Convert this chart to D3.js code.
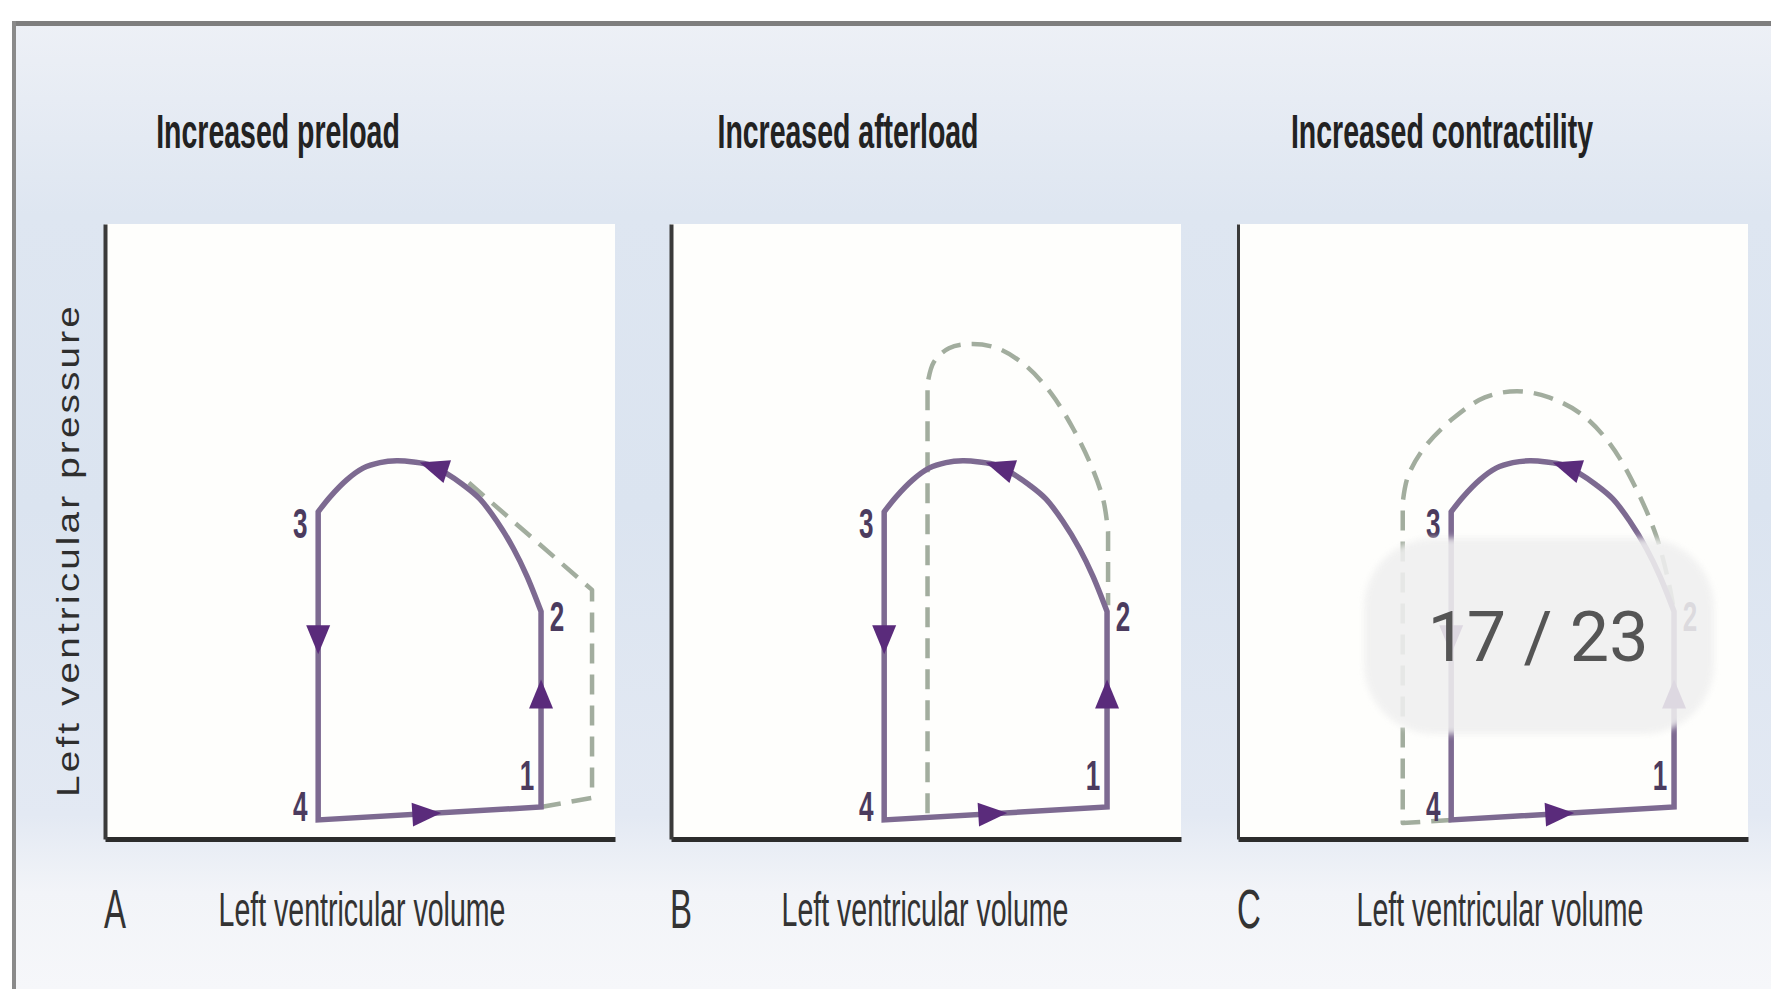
<!DOCTYPE html>
<html><head><meta charset="utf-8">
<script src="https://cdn.jsdelivr.net/npm/d3@7"></script>
<style>html,body{margin:0;padding:0;background:#fff;} svg{display:block;}</style>
</head><body><svg id="c" width="1771" height="989"></svg>
<script>
// ---------------- data ----------------
const panelLetters = ["A", "B", "C"];
const panelTitles = ["Increased preload", "Increased afterload", "Increased contractility"];
const xAxisLabel = "Left ventricular volume";
const yAxisLabel = "Left ventricular pressure";
const pointLabels = ["1", "2", "3", "4"];

// baseline pressure-volume loop, straight part 3 -> 4 -> 1 -> 2
const loopLineVolume = [41.8, 41.8, 85.5, 85.5];
const loopLinePressure = [53.2, 3.1, 5.2, 37.0];
// ejection arc 2 -> 3
const loopArcVolume = [85.5, 82.7, 80.1, 76.8, 73.5, 70.2, 67.0, 63.7, 60.5, 57.2, 53.9, 50.6, 47.4, 44.1, 41.8];
const loopArcPressure = [37.0, 42.8, 47.2, 51.7, 55.3, 57.6, 59.4, 60.8, 61.3, 61.5, 61.2, 60.3, 58.4, 55.6, 53.2];

// loop vertices 1..4
const vertexVolume = [85.5, 85.5, 41.8, 41.8];
const vertexPressure = [5.2, 37.0, 53.2, 3.1];

// direction arrows along the loop (from -> to)
const arrowFromVolume = [41.8, 61.0, 85.5, 66.5];
const arrowFromPressure = [34.5, 4.0, 21.5, 59.9];
const arrowToVolume = [41.8, 65.0, 85.5, 62.5];
const arrowToPressure = [30.5, 4.2, 25.5, 61.0];

// dashed altered loops
const preloadVolume = [85.5, 95.5, 95.5, 70.0];
const preloadPressure = [5.2, 6.7, 40.5, 58.9];

const afterloadLineVolume = [50.3, 50.3];
const afterloadLinePressure = [4.2, 74.0];
const afterloadArcVolume = [50.3, 51.5, 54.5, 59.0, 64.0, 69.5, 74.5, 79.0, 82.5, 84.8, 85.7];
const afterloadArcPressure = [74.0, 77.5, 79.8, 80.5, 79.8, 77.0, 72.5, 66.5, 60.5, 55.0, 50.0];
const afterloadTailVolume = [85.7, 85.7];
const afterloadTailPressure = [50.0, 38.0];

const contractLineVolume = [41.8, 32.3, 32.3];
const contractLinePressure = [3.1, 2.6, 54.7];
const contractArcVolume = [32.3, 33.3, 36.5, 42.2, 48.4, 54.7, 61.0, 67.3, 72.9, 77.8, 82.0, 84.5, 85.5];
const contractArcPressure = [54.7, 58.9, 63.6, 68.4, 71.8, 72.8, 71.8, 69.1, 64.3, 57.4, 49.3, 41.5, 37.0];

const pageCounter = "17 / 23";

// ---------------- layout ----------------
const W = 1771, H = 989;
const panelLeft = [105, 671, 1238];
const plotW = 510, plotTop = 224, plotBottom = 839;
const titleCenter = [173, 177, 204];
const xLabelCenter = [257, 254, 262];
const FONT = "'Liberation Sans', Arial, sans-serif";

const svg = d3.select("#c");
const defs = svg.append("defs");
const grad = defs.append("linearGradient").attr("id", "bg")
  .attr("gradientUnits", "userSpaceOnUse").attr("x1", 0).attr("y1", 22).attr("x2", 0).attr("y2", H);
[[0, "#edf0f6"], [0.2, "#dee6f1"], [0.5, "#dbe4f0"], [0.82, "#e3e9f3"], [0.9, "#f2f4f8"], [1, "#f6f7fa"]]
  .forEach(s => grad.append("stop").attr("offset", s[0]).attr("stop-color", s[1]));
defs.append("filter").attr("id", "soft").attr("x", "-20%").attr("y", "-20%").attr("width", "140%").attr("height", "140%")
  .append("feGaussianBlur").attr("stdDeviation", 3);

svg.append("rect").attr("width", W).attr("height", H).attr("fill", "#fff");
svg.append("rect").attr("x", 14).attr("y", 24).attr("width", W).attr("height", H).attr("fill", "url(#bg)");
svg.append("rect").attr("x", 12).attr("y", 21).attr("width", W).attr("height", 5).attr("fill", "#7e7e7e");
svg.append("rect").attr("x", 12).attr("y", 21).attr("width", 4).attr("height", H).attr("fill", "#8a8a8a");

// y axis label
svg.append("text").attr("transform", "translate(79,550) rotate(-90)")
  .attr("text-anchor", "middle").attr("font-family", FONT).attr("font-size", 31)
  .attr("letter-spacing", 2.5)
  .attr("fill", "#2e2e2e").attr("textLength", 494).attr("lengthAdjust", "spacingAndGlyphs")
  .text(yAxisLabel);

const dashedSets = [
  [{v: preloadVolume, p: preloadPressure, smooth: false}],
  [{v: afterloadLineVolume, p: afterloadLinePressure, smooth: false},
   {v: afterloadArcVolume, p: afterloadArcPressure, smooth: true},
   {v: afterloadTailVolume, p: afterloadTailPressure, smooth: false}],
  [{v: contractLineVolume, p: contractLinePressure, smooth: false},
   {v: contractArcVolume, p: contractArcPressure, smooth: true}]
];
const labelOffsets = [[-14, -17], [16, 20], [-18, 26], [-18, 1]];
const axisWidths = [4, 4, 3];

function piecesPath(pieces, x, y) {
  return pieces.map((pc, i) => {
    const gen = d3.line().x(d => x(d[0])).y(d => y(d[1]))
      .curve(pc.smooth ? d3.curveCatmullRom.alpha(0.5) : d3.curveLinear);
    const d = gen(d3.zip(pc.v, pc.p));
    return i === 0 ? d : d.replace(/^M/, "L");
  }).join("");
}

panelLetters.forEach((letter, i) => {
  const L = panelLeft[i];
  const x = d3.scaleLinear().domain([0, 100]).range([L, L + plotW]);
  const y = d3.scaleLinear().domain([0, 100]).range([plotBottom, plotTop]);
  const g = svg.append("g");

  g.append("rect").attr("x", L).attr("y", plotTop).attr("width", plotW).attr("height", plotBottom - plotTop)
    .attr("fill", "#fefefc");

  // title
  g.append("text").attr("transform", `translate(${L + titleCenter[i]},148) scale(0.593,1)`)
    .attr("text-anchor", "middle").attr("font-family", FONT).attr("font-weight", "bold")
    .attr("font-size", 48).attr("fill", "#222").text(panelTitles[i]);

  // axes (no ticks)
  const ax = g.append("g").attr("transform", `translate(0,${plotBottom})`)
    .call(d3.axisBottom(x).ticks(0).tickSizeOuter(0));
  ax.select(".domain").attr("stroke", "#2c2c2c").attr("stroke-width", 5);
  const ay = g.append("g").attr("transform", `translate(${L},0)`)
    .call(d3.axisLeft(y).ticks(0).tickSizeOuter(0));
  ay.select(".domain").attr("stroke", "#3a3a3a").attr("stroke-width", axisWidths[i]);

  // dashed altered loop
  g.append("path").attr("d", piecesPath(dashedSets[i], x, y))
    .attr("fill", "none").attr("stroke", "#a2ad9e").attr("stroke-width", 4.5)
    .attr("stroke-dasharray", "20,11").attr("stroke-linejoin", "round");

  // baseline loop
  const loopPieces = [
    {v: loopLineVolume, p: loopLinePressure, smooth: false},
    {v: loopArcVolume, p: loopArcPressure, smooth: true}
  ];
  g.append("path").attr("d", piecesPath(loopPieces, x, y) + "Z")
    .attr("fill", "none").attr("stroke", "#7d6a91").attr("stroke-width", 5.5)
    .attr("stroke-linejoin", "miter");

  // arrows
  arrowFromVolume.forEach((fv, k) => {
    const x0 = x(fv), y0 = y(arrowFromPressure[k]);
    const x1 = x(arrowToVolume[k]), y1 = y(arrowToPressure[k]);
    const ang = Math.atan2(y1 - y0, x1 - x0) * 180 / Math.PI;
    const cx = (x0 + x1) / 2, cy = (y0 + y1) / 2;
    g.append("path").attr("d", "M15,0L-14,-12L-14,12Z")
      .attr("transform", `translate(${cx},${cy}) rotate(${ang})`)
      .attr("fill", "#5a2b7b");
  });

  // vertex labels
  pointLabels.forEach((t, k) => {
    g.append("text")
      .attr("transform", `translate(${x(vertexVolume[k]) + labelOffsets[k][0]},${y(vertexPressure[k]) + labelOffsets[k][1]}) scale(0.62,1)`)
      .attr("text-anchor", "middle").attr("font-family", FONT).attr("font-weight", "bold")
      .attr("font-size", 42).attr("fill", "#4b3b5e").text(t);
  });

  // panel letter and x label
  g.append("text").attr("transform", `translate(${L - 1},928) scale(0.6,1)`)
    .attr("font-family", FONT).attr("font-size", 55).attr("fill", "#333").text(letter);
  g.append("text").attr("transform", `translate(${L + xLabelCenter[i]},926) scale(0.594,1)`)
    .attr("text-anchor", "middle").attr("font-family", FONT).attr("font-size", 48)
    .attr("fill", "#333").text(xAxisLabel);
});

// viewer page counter overlay
const ov = svg.append("g");
ov.append("rect").attr("x", 1364).attr("y", 538).attr("width", 350).attr("height", 196).attr("rx", 70)
  .attr("fill", "#f0f0f0").attr("opacity", 0.88).attr("filter", "url(#soft)");
ov.append("text").attr("x", 1538).attr("y", 661).attr("text-anchor", "middle")
  .attr("font-family", "Roboto, 'Liberation Sans', sans-serif").attr("font-weight", 400).attr("font-size", 70)
  .attr("fill", "#555").text(pageCounter);
</script></body></html>
